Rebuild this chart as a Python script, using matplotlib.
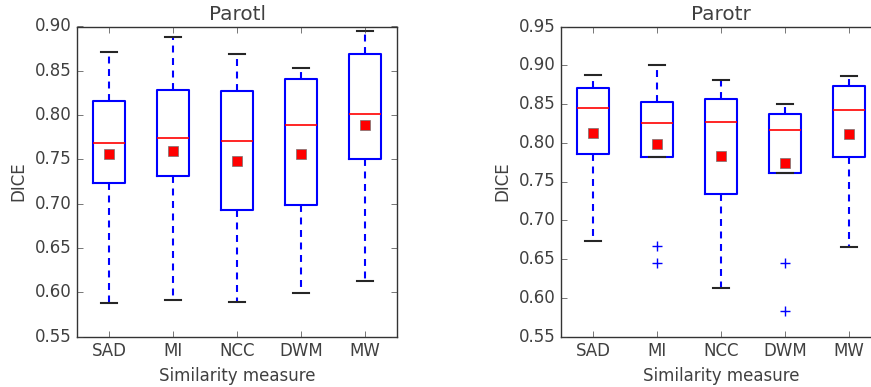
import matplotlib
matplotlib.use("Agg")
import matplotlib.pyplot as plt

plt.style.use("classic")
plt.rcParams["figure.facecolor"] = "white"
plt.rcParams["savefig.facecolor"] = "white"
plt.rcParams["text.color"] = "0.25"
plt.rcParams["axes.labelcolor"] = "0.25"
plt.rcParams["xtick.color"] = "0.25"
plt.rcParams["ytick.color"] = "0.25"
plt.rcParams["axes.edgecolor"] = "0.2"

measures = ["SAD", "MI", "NCC", "DWM", "MW"]

# Parotl
l_whislo = [0.588, 0.5915, 0.589, 0.5986, 0.613]
l_q1 = [0.7234, 0.7308, 0.6928, 0.6981, 0.7505]
l_med = [0.7686, 0.7746, 0.7704, 0.7885, 0.8009]
l_q3 = [0.8164, 0.8285, 0.8269, 0.8409, 0.8687]
l_whishi = [0.8717, 0.8887, 0.8684, 0.8537, 0.8951]
l_mean = [0.7561, 0.7595, 0.7486, 0.7561, 0.7889]
l_fliers = [[], [], [], [], []]

# Parotr
r_whislo = [0.6735, 0.782, 0.613, 0.7608, 0.6654]
r_q1 = [0.7859, 0.782, 0.734, 0.7608, 0.782]
r_med = [0.8442, 0.8252, 0.8274, 0.817, 0.842]
r_q3 = [0.8709, 0.8524, 0.8563, 0.8372, 0.8727]
r_whishi = [0.8874, 0.900, 0.8809, 0.8502, 0.8857]
r_mean = [0.8126, 0.7983, 0.7833, 0.7733, 0.8109]
r_fliers = [[], [0.667, 0.6446], [], [0.6446, 0.5824], []]


def make_stats(lo, q1, med, q3, hi, mean, fl):
    stats = []
    for i in range(len(measures)):
        stats.append({"label": measures[i], "whislo": lo[i], "q1": q1[i],
                      "med": med[i], "q3": q3[i], "whishi": hi[i],
                      "mean": mean[i], "fliers": fl[i]})
    return stats


def draw(ax, stats, title, ylim):
    ax.bxp(stats, showmeans=True, widths=0.5,
           boxprops=dict(color="b", linewidth=1.5),
           whiskerprops=dict(color="b", linewidth=1.5, dashes=(5, 4)),
           capprops=dict(color="0.15", linewidth=1.5),
           medianprops=dict(color="r", linewidth=1.2),
           flierprops=dict(marker="+", markeredgecolor="b", markersize=7),
           meanprops=dict(marker="s", markerfacecolor="red",
                          markeredgecolor="0.45", markersize=7))
    ax.set_title(title)
    ax.set_ylim(ylim)
    ax.set_xlim(0.5, 5.5)
    ax.set_xlabel("Similarity measure")
    ax.set_ylabel("DICE")


fig = plt.figure(figsize=(8.71, 3.87), dpi=100)
ax1 = fig.add_axes([77 / 871, 1 - 336.5 / 387, 320 / 871, 310 / 387])
ax2 = fig.add_axes([561 / 871, 1 - 336.5 / 387, 320 / 871, 310 / 387])

draw(ax1, make_stats(l_whislo, l_q1, l_med, l_q3, l_whishi, l_mean, l_fliers),
     "Parotl", (0.55, 0.90))
draw(ax2, make_stats(r_whislo, r_q1, r_med, r_q3, r_whishi, r_mean, r_fliers),
     "Parotr", (0.55, 0.95))

fig.savefig("out.png", dpi=100)
